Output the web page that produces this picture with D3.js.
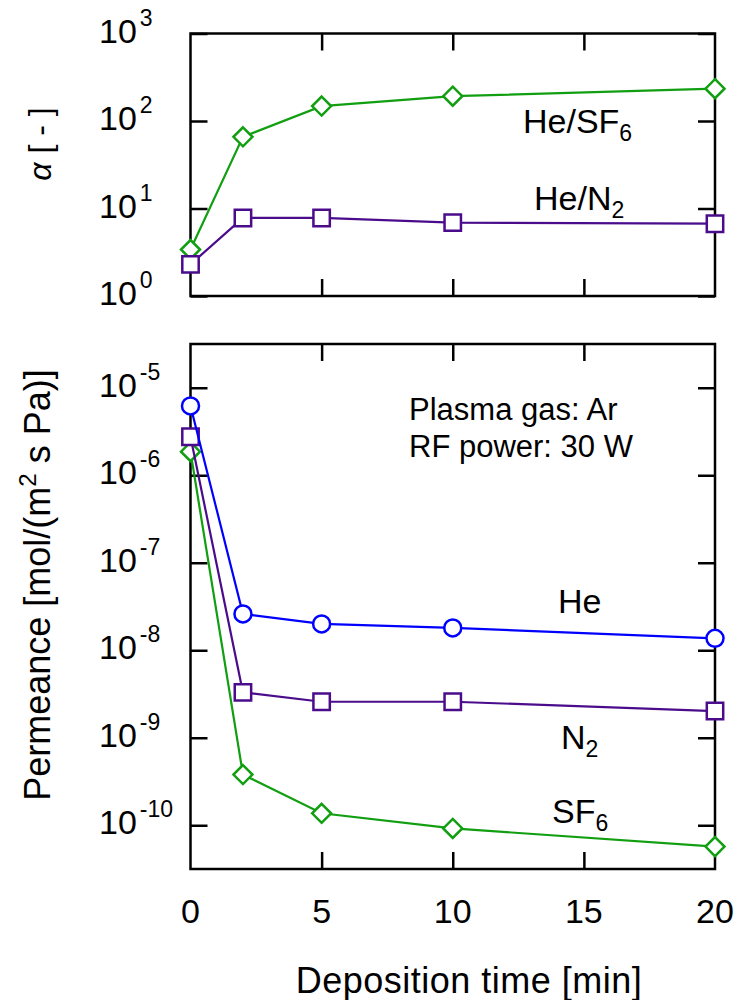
<!DOCTYPE html>
<html>
<head>
<meta charset="utf-8">
<script src="https://cdn.jsdelivr.net/npm/d3@7"></script>
<style>
  body { margin: 0; background: #fff; }
  text { font-family: "Liberation Sans", Arial, sans-serif; fill: #000; }
</style>
</head>
<body>
<div class="container"></div>
<script>
// size of the page
var w = 742;
var h = 1000;

// data
var times = [0, 2, 5, 10, 20];
var xTicks = [0, 5, 10, 15, 20];

var alphaSF6 = [3.4, 66, 148, 192, 234];
var alphaN2 = [2.3, 7.8, 7.8, 6.9, 6.7];

var permHe = [6.2e-6, 2.6e-8, 2.0e-8, 1.8e-8, 1.37e-8];
var permN2 = [2.75e-6, 3.3e-9, 2.58e-9, 2.58e-9, 2.02e-9];
var permSF6 = [1.86e-6, 3.8e-10, 1.37e-10, 9.2e-11, 5.7e-11];

var topExps = [0, 1, 2, 3];
var bottomExps = [-5, -6, -7, -8, -9, -10];

var green = "#119f11";
var purple = "#4b0c8c";
var blue = "#0000ff";

var left = 190.5, right = 715;

var x = d3.scaleLinear().domain([0, 20]).range([left, right]);

var yTop = d3.scaleLog().domain([1, 1000]).range([296, 33.5]);
var yBot = d3.scaleLog().domain([Math.pow(10, -10.5), Math.pow(10, -4.5)]).range([869, 344]);

var svg = d3.select(".container")
    .append("svg")
    .attr("width", w)
    .attr("height", h);

var tickLen = 17;

function frame(y) {
    var r = y.range();
    var g = svg.append("g");
    // inward ticks on all four sides
    g.append("g").attr("transform", "translate(0," + r[0] + ")")
        .call(d3.axisBottom(x).tickValues([5, 10, 15]).tickSize(-tickLen).tickFormat(""));
    g.append("g").attr("transform", "translate(0," + r[1] + ")")
        .call(d3.axisTop(x).tickValues([5, 10, 15]).tickSize(-tickLen).tickFormat(""));
    var ex = y === yTop ? topExps : bottomExps;
    var vals = ex.map(function(e) { return Math.pow(10, e); });
    g.append("g").attr("transform", "translate(" + left + ",0)")
        .call(d3.axisLeft(y).tickValues(vals).tickSize(-tickLen).tickFormat(""));
    g.append("g").attr("transform", "translate(" + right + ",0)")
        .call(d3.axisRight(y).tickValues(vals).tickSize(-tickLen).tickFormat(""));
    g.selectAll(".domain").remove();
    g.selectAll(".tick line").attr("stroke", "#000").attr("stroke-width", 2.5);
    g.append("rect")
        .attr("x", left).attr("y", r[1])
        .attr("width", right - left).attr("height", r[0] - r[1])
        .attr("fill", "none").attr("stroke", "#000").attr("stroke-width", 2.5);

    // tick labels 10^n, left aligned
    ex.forEach(function(e) {
        var t = svg.append("text")
            .attr("x", 99)
            .attr("y", y(Math.pow(10, e)) + 9)
            .attr("font-size", 34);
        t.append("tspan").text("10");
        t.append("tspan").attr("dx", 3).attr("dy", -17).attr("font-size", 23).text(e);
    });
}

frame(yTop);
frame(yBot);

// x tick labels (bottom panel only)
svg.selectAll(".xlab")
    .data(xTicks)
    .enter().append("text")
    .attr("class", "xlab")
    .attr("x", function(d) { return x(d); })
    .attr("y", 923)
    .attr("text-anchor", "middle")
    .attr("font-size", 34)
    .text(function(d) { return d; });

var line = d3.line();

function series(y, vals, color, shape) {
    var pts = times.map(function(t, i) { return [x(t), y(vals[i])]; });
    svg.append("path")
        .attr("d", line(pts))
        .attr("fill", "none")
        .attr("stroke", color)
        .attr("stroke-width", 2.2);
    var m = svg.append("g").selectAll("path")
        .data(pts)
        .enter().append("path")
        .attr("transform", function(d) { return "translate(" + d[0] + "," + d[1] + ")"; })
        .attr("fill", "#fff")
        .attr("stroke", color)
        .attr("stroke-width", 2.5);
    if (shape === "diamond") m.attr("d", "M0,-9.5L9.5,0L0,9.5L-9.5,0Z");
    if (shape === "square") m.attr("d", "M-8.2,-8.2H8.2V8.2H-8.2Z");
    if (shape === "circle") m.attr("d", d3.symbol(d3.symbolCircle, Math.PI * 8.5 * 8.5)());
}

series(yTop, alphaSF6, green, "diamond");
series(yTop, alphaN2, purple, "square");

series(yBot, permSF6, green, "diamond");
series(yBot, permN2, purple, "square");
series(yBot, permHe, blue, "circle");

// labels with subscripts
function label(px, py, main, sub, size) {
    var t = svg.append("text").attr("x", px).attr("y", py).attr("font-size", size || 34);
    t.append("tspan").text(main);
    if (sub) t.append("tspan").attr("dy", 8).attr("font-size", 23).text(sub);
}

label(523, 133, "He/SF", "6");
label(534, 210, "He/N", "2");
label(558, 613, "He");
label(561, 749, "N", "2");
label(552, 823, "SF", "6");

label(409, 420, "Plasma gas: Ar", null, 31);
label(409, 457, "RF power: 30 W", null, 31);

// axis titles
svg.append("text")
    .attr("transform", "translate(51,144) rotate(-90)")
    .attr("text-anchor", "middle")
    .attr("font-size", 32)
    .html('<tspan font-style="italic">α</tspan> [ - ]');

var yt = svg.append("text")
    .attr("transform", "translate(50,585) rotate(-90)")
    .attr("text-anchor", "middle")
    .attr("font-size", 36);
yt.append("tspan").text("Permeance [mol/(m");
yt.append("tspan").attr("dy", -14).attr("font-size", 24).text("2");
yt.append("tspan").attr("dy", 14).text(" s Pa)]");

svg.append("text")
    .attr("x", 469)
    .attr("y", 993)
    .attr("text-anchor", "middle")
    .attr("font-size", 36)
    .attr("letter-spacing", 0.5)
    .text("Deposition time [min]");
</script>
</body>
</html>
